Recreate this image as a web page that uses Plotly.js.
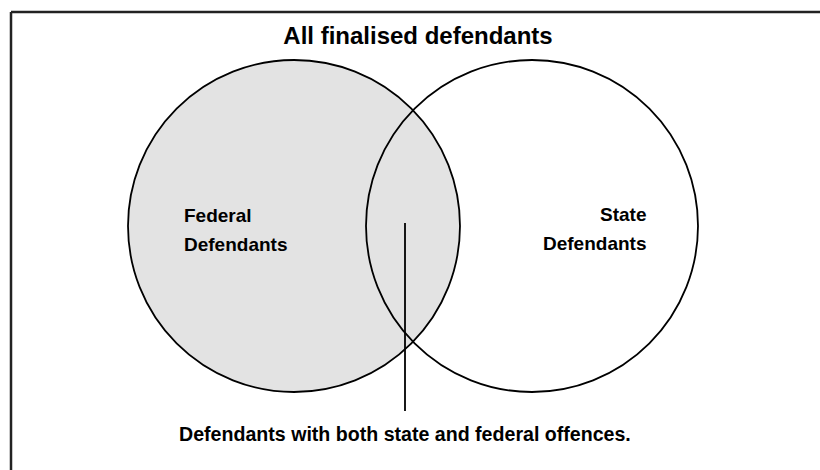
<!DOCTYPE html>
<html>
<head>
<meta charset="utf-8">
<script src="https://cdn.plot.ly/plotly-3.0.1.min.js"></script>
<style>html,body{margin:0;padding:0;background:#fff;}#chart{width:820px;height:470px;}</style>
</head>
<body>
<div id="chart"></div>
<script>
// Data: the two sets of the Venn diagram and the overlap annotation
const setNames = ['Federal<br>Defendants', 'State<br>Defendants'];
const setFilled = [true, false];
const overlapLabel = 'Defendants with both state and federal offences.';
const chartTitle = 'All finalised defendants';

// Geometry (pixel-like data units)
const geo = {
  cx: [294, 532], cy: [226, 226], r: [166, 166],
  labelX: [182, 648], labelY: [215, 214], lineGap: 29, labelAnchor: ['left', 'right'],
  pointerX: 405, pointerY0: 223, pointerY1: 411,
  overlapTextX: 405, overlapTextY: 434
};

const shapes = [];
// frame (top and left edges, the rest cropped)
shapes.push({type:'line', xref:'paper', yref:'paper', x0:11/820, x1:1.02, y0:1-12/470, y1:1-12/470, line:{color:'#222', width:2.5}});
shapes.push({type:'line', xref:'paper', yref:'paper', x0:11/820, x1:11/820, y0:-0.02, y1:1-12/470, line:{color:'#222', width:2.5}});
// fills first
setNames.forEach((n, i) => {
  if (setFilled[i]) {
    shapes.push({type:'circle', xref:'x', yref:'y', layer:'below',
      x0: geo.cx[i]-geo.r[i], x1: geo.cx[i]+geo.r[i], y0: geo.cy[i]-geo.r[i], y1: geo.cy[i]+geo.r[i],
      fillcolor:'#e3e3e3', line:{width:0}});
  }
});
// outlines
setNames.forEach((n, i) => {
  shapes.push({type:'circle', xref:'x', yref:'y',
    x0: geo.cx[i]-geo.r[i], x1: geo.cx[i]+geo.r[i], y0: geo.cy[i]-geo.r[i], y1: geo.cy[i]+geo.r[i],
    fillcolor:'rgba(0,0,0,0)', line:{color:'#000', width:1.8}});
});
// pointer line
shapes.push({type:'line', xref:'x', yref:'y', x0:geo.pointerX, x1:geo.pointerX, y0:geo.pointerY0, y1:geo.pointerY1, line:{color:'#000', width:1.8}});

const font = {family:'"Liberation Sans", Arial, sans-serif', size:19, color:'#000'};
const annotations = [];
setNames.forEach((n, i) => {
  n.split('<br>').forEach((part, k) => {
    annotations.push({
      x: geo.labelX[i], y: geo.labelY[i] + k*geo.lineGap, xref:'x', yref:'y', text:'<b>'+part+'</b>',
      showarrow:false, xanchor: geo.labelAnchor[i], yanchor:'middle', font: font
    });
  });
});
annotations.push({x: geo.overlapTextX, y: geo.overlapTextY, xref:'x', yref:'y', text:'<b>'+overlapLabel+'</b>',
  showarrow:false, xanchor:'center', yanchor:'middle', font: Object.assign({}, font, {size:19.6})});

const layout = {
  width:820, height:470, margin:{l:0,r:0,t:0,b:0},
  paper_bgcolor:'#fff', plot_bgcolor:'#fff', showlegend:false,
  title:{text:chartTitle, x:418/820, xanchor:'center', y:1-36/470, yanchor:'middle',
    font:{family:'"Liberation Sans", Arial, sans-serif', size:24, color:'#000', weight:'bold'}},
  xaxis:{range:[0,820], visible:false, fixedrange:true},
  yaxis:{range:[470,0], visible:false, fixedrange:true},
  shapes: shapes, annotations: annotations
};
Plotly.newPlot('chart', [{x:[], y:[], type:'scatter', hoverinfo:'skip'}], layout, {staticPlot:true, displayModeBar:false});
</script>
</body>
</html>
